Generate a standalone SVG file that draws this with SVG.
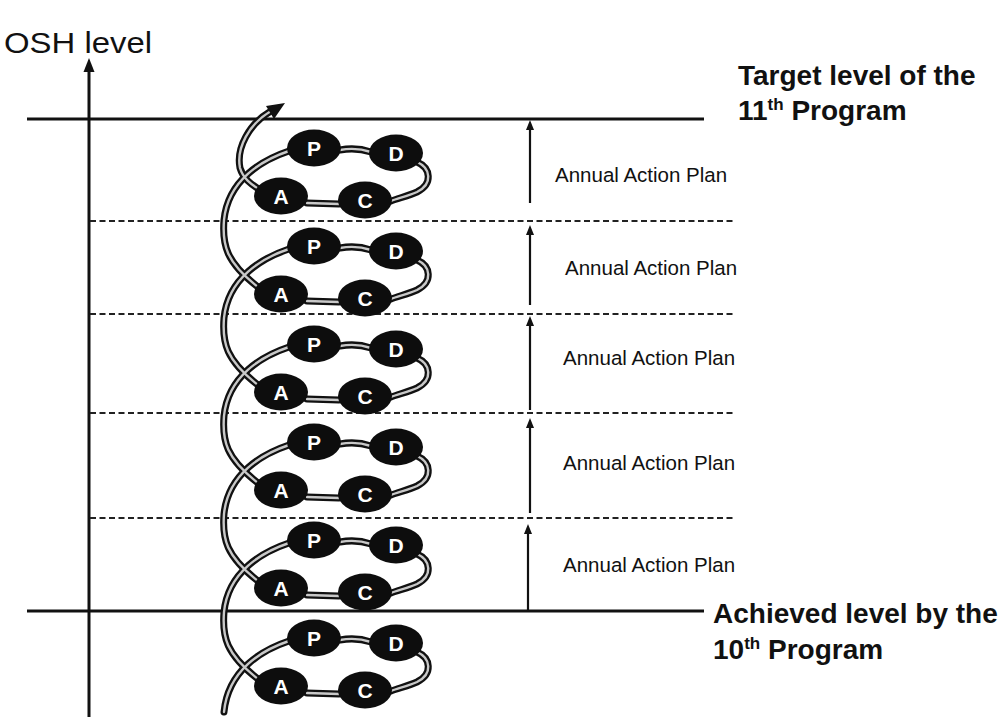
<svg xmlns="http://www.w3.org/2000/svg" xmlns:xlink="http://www.w3.org/1999/xlink" width="1008" height="717" viewBox="0 0 1008 717">
  <style>
    .label { font-family: "Liberation Sans", Arial, sans-serif; fill: #111; }
    .plan { font-size: 20.5px; }
    .title { font-size: 28px; font-weight: bold; }
    .sup { font-size: 17px; }
    .solid { stroke: #111; stroke-width: 3; fill: none; }
    .dash { stroke: #222; stroke-width: 1.8; stroke-dasharray: 6 3.5; fill: none; }
    .stem { stroke: #111; stroke-width: 2.2; fill: none; }
    .head { fill: #111; }
    .ball { fill: #0d0d0d; }
    .letter { font-family: "Liberation Sans", Arial, sans-serif; font-weight: bold; font-size: 21px; fill: #fff; text-anchor: middle; }
  </style>
  <defs>
    <!-- rope geometry of one PDCA turn: P-D, D around to C, C-A -->
    <g id="turnLinks">
      <path d="M340,150 Q356,147 371,152"/>
      <path d="M417,162 C431,168 433,184 417,192 C408,196 399,198 391,201"/>
      <path d="M339,204 L307,203"/>
    </g>
    <!-- long arc from P of one turn down to A of the turn below -->
    <path id="climb" d="M289,151 C262,160 228,180 224,220 C222,245 226,262 258,287"/>
    <g id="ropeShapes">
      <use xlink:href="#turnLinks"/>
      <use xlink:href="#turnLinks" transform="translate(0,98)"/>
      <use xlink:href="#turnLinks" transform="translate(0,196)"/>
      <use xlink:href="#turnLinks" transform="translate(0,294)"/>
      <use xlink:href="#turnLinks" transform="translate(0,392)"/>
      <use xlink:href="#turnLinks" transform="translate(0,490)"/>
      <use xlink:href="#climb"/>
      <use xlink:href="#climb" transform="translate(0,98)"/>
      <use xlink:href="#climb" transform="translate(0,196)"/>
      <use xlink:href="#climb" transform="translate(0,294)"/>
      <use xlink:href="#climb" transform="translate(0,392)"/>
      <!-- rising end above the top turn -->
      <path d="M262,191 C250,184 243,178 240,168 C236,148 249,124 271,111"/>
      <!-- loose end below the bottom turn -->
      <path d="M289,641 C262,650 228,670 224,712"/>
    </g>
    <!-- one PDCA turn -->
    <g id="turn">
      <ellipse class="ball" cx="314" cy="148" rx="27" ry="18.5"/>
      <ellipse class="ball" cx="396" cy="153" rx="27" ry="18.5"/>
      <ellipse class="ball" cx="281" cy="196" rx="27" ry="18.5"/>
      <ellipse class="ball" cx="365" cy="200" rx="27" ry="18.5"/>
      <text class="letter" x="314" y="155.5">P</text>
      <text class="letter" x="396" y="160.5">D</text>
      <text class="letter" x="281" y="203.5">A</text>
      <text class="letter" x="365" y="207.5">C</text>
    </g>
  </defs>

  <rect width="1008" height="717" fill="#fff"/>

  <!-- vertical OSH axis -->
  <g id="axis">
    <line class="solid" x1="89" y1="717" x2="89" y2="68"/>
    <polygon class="head" points="89,58 83.5,72 94.5,72"/>
  </g>

  <!-- level lines -->
  <g id="levels">
    <line class="solid" x1="27" y1="119" x2="704" y2="119"/>
    <line class="solid" x1="27" y1="611" x2="704" y2="611"/>
    <line class="dash" x1="90" y1="221" x2="735" y2="221"/>
    <line class="dash" x1="90" y1="314" x2="735" y2="314"/>
    <line class="dash" x1="90" y1="413" x2="735" y2="413"/>
    <line class="dash" x1="90" y1="518" x2="735" y2="518"/>
  </g>

  <!-- connectors: the PDCA rope spiral -->
  <g id="connectors">
    <use xlink:href="#ropeShapes" stroke="#111" stroke-width="7" fill="none" stroke-linecap="round"/>
    <use xlink:href="#ropeShapes" stroke="#c8c8c8" stroke-width="2.4" fill="none" stroke-linecap="round"/>
    <polygon class="head" points="285,103 274,119 266,106"/>
  </g>

  <!-- PDCA turns -->
  <g id="pdca-1"><use xlink:href="#turn"/></g>
  <g id="pdca-2"><use xlink:href="#turn" transform="translate(0,98)"/></g>
  <g id="pdca-3"><use xlink:href="#turn" transform="translate(0,196)"/></g>
  <g id="pdca-4"><use xlink:href="#turn" transform="translate(0,294)"/></g>
  <g id="pdca-5"><use xlink:href="#turn" transform="translate(0,392)"/></g>
  <g id="pdca-6"><use xlink:href="#turn" transform="translate(0,490)"/></g>

  <!-- annual steps between levels -->
  <g id="steps">
    <line class="stem" x1="530" y1="203" x2="530" y2="128"/>
    <polygon class="head" points="530,120 526,130 534,130"/>
    <line class="stem" x1="530" y1="305" x2="530" y2="233"/>
    <polygon class="head" points="530,225 526,235 534,235"/>
    <line class="stem" x1="530" y1="410" x2="530" y2="324"/>
    <polygon class="head" points="530,316 526,326 534,326"/>
    <line class="stem" x1="530" y1="513" x2="530" y2="426"/>
    <polygon class="head" points="530,418 526,428 534,428"/>
    <line class="stem" x1="528" y1="611" x2="528" y2="532"/>
    <polygon class="head" points="528,524 524,534 532,534"/>
  </g>

  <g id="plan-1"><text class="label plan" x="555" y="182">Annual Action Plan</text></g>
  <g id="plan-2"><text class="label plan" x="565" y="275">Annual Action Plan</text></g>
  <g id="plan-3"><text class="label plan" x="563" y="365">Annual Action Plan</text></g>
  <g id="plan-4"><text class="label plan" x="563" y="470">Annual Action Plan</text></g>
  <g id="plan-5"><text class="label plan" x="563" y="572">Annual Action Plan</text></g>

  <g id="axis-title"><text class="label" x="4" y="53" font-size="30" textLength="148" lengthAdjust="spacingAndGlyphs">OSH level</text></g>

  <g id="target-label">
    <text class="label title" x="738" y="85">Target level of the</text>
    <text class="label title" x="738" y="120">11<tspan class="sup" dy="-10">th</tspan><tspan dy="10"> Program</tspan></text>
  </g>

  <g id="achieved-label">
    <text class="label title" x="713" y="623">Achieved level by the</text>
    <text class="label title" x="713" y="659">10<tspan class="sup" dy="-10">th</tspan><tspan dy="10"> Program</tspan></text>
  </g>
</svg>
